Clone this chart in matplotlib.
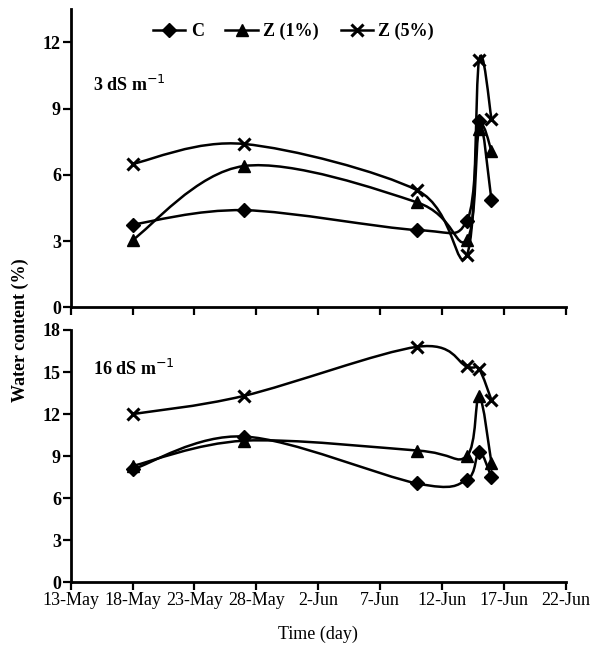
import numpy as np
import pandas as pd
import matplotlib
matplotlib.use("Agg")
import matplotlib.pyplot as plt
from matplotlib.path import Path
from matplotlib.patches import PathPatch
from matplotlib.lines import Line2D

# ==============================================================================
# DATA
# ==============================================================================

FECHAS = ["2010-05-18", "2010-05-27", "2010-06-10", "2010-06-14", "2010-06-15", "2010-06-16"]
TICKS_X = ["2010-05-13", "2010-05-18", "2010-05-23", "2010-05-28", "2010-06-02",
           "2010-06-07", "2010-06-12", "2010-06-17", "2010-06-22"]
ETIQUETAS_X = ["13-May", "18-May", "23-May", "28-May", "2-Jun", "7-Jun", "12-Jun", "17-Jun", "22-Jun"]

SERIES = ["C", "Z (1%)", "Z (5%)"]

# 3 dS m-1
AGUA_3 = {
    "C":      [3.75, 4.4, 3.5, 3.9, 8.45, 4.85],
    "Z (1%)": [3.05, 6.4, 4.75, 3.05, 8.1, 7.1],
    "Z (5%)": [6.5, 7.4, 5.3, 2.35, 11.2, 8.55],
}
# 16 dS m-1
AGUA_16 = {
    "C":      [8.05, 10.4, 7.05, 7.3, 9.3, 7.5],
    "Z (1%)": [8.3, 10.1, 9.4, 9.0, 13.3, 8.5],
    "Z (5%)": [12.0, 13.3, 16.8, 15.4, 15.2, 13.0],
}

MARCADORES = {"C": "D", "Z (1%)": "^", "Z (5%)": "x"}

FUENTE = ["Liberation Serif", "DejaVu Serif"]


def curva_suave(x, y):
    """Path de Bezier (suavizado tipo Excel) que pasa por los puntos."""
    n = len(x)
    p = np.column_stack([x, y])
    verts = [p[0]]
    codes = [Path.MOVETO]
    for i in range(n - 1):
        p0 = p[i - 1] if i > 0 else p[i]
        p3 = p[i + 2] if i + 2 < n else p[i + 1]
        c1 = p[i] + (p[i + 1] - p0) / 6.0
        c2 = p[i + 1] - (p3 - p[i]) / 6.0
        verts += [c1, c2, p[i + 1]]
        codes += [Path.CURVE4] * 3
    return Path(np.array(verts), codes)


def dibujar_panel(ax, datos, ymax, paso, texto, y_texto):
    x = matplotlib.dates.date2num(pd.to_datetime(FECHAS))
    for s in SERIES:
        y = np.array(datos[s])
        ax.add_patch(PathPatch(curva_suave(x, y), facecolor="none", edgecolor="black", lw=1.8))
        mk = MARCADORES[s]
        ax.plot(x, y, linestyle="none", marker=mk, color="black",
                markersize=8 if mk != "D" else 7, markeredgewidth=2.2 if mk == "x" else 1)

    xt = matplotlib.dates.date2num(pd.to_datetime(TICKS_X))
    ax.set_xlim(xt[0], xt[-1])
    ax.set_xticks(xt)
    ax.set_ylim(0, ymax)
    ax.set_yticks(np.arange(0, ymax + 0.01, paso))
    ax.spines["top"].set_visible(False)
    ax.spines["right"].set_visible(False)
    for sp in ("left", "bottom"):
        ax.spines[sp].set_linewidth(2)
    ax.tick_params(direction="out", length=6, width=1.6, labelsize=13, pad=1)
    for lab in ax.get_yticklabels():
        lab.set_fontfamily(FUENTE)
        lab.set_fontweight("bold")
    ax.text(0.045, y_texto, texto, transform=ax.transAxes,
            fontsize=13, fontfamily=FUENTE, fontweight="bold", ha="left", va="center")


def main():
    fig = plt.figure(figsize=(5.95, 6.52), dpi=100)
    ax1 = fig.add_axes([0.1188, 0.5287, 0.832, 0.4570])
    ax2 = fig.add_axes([0.1188, 0.1069, 0.832, 0.3870])

    dibujar_panel(ax1, AGUA_3, 13.5, 3, r"3 dS m$^{-1}$", 0.745)
    dibujar_panel(ax2, AGUA_16, 18, 3, r"16 dS m$^{-1}$", 0.845)

    ax1.set_xticklabels([])
    ax2.set_xticklabels(ETIQUETAS_X, fontfamily=FUENTE, fontsize=13)
    ax2.set_xlabel("Time (day)", fontsize=13, fontfamily=FUENTE, labelpad=12)
    fig.text(0.035, 0.494, "Water content (%)", rotation=90, fontsize=13,
             fontfamily=FUENTE, fontweight="bold", ha="center", va="center")

    handles = [Line2D([], [], color="black", lw=1.8, marker=MARCADORES[s],
                      markersize=8 if s != "C" else 7, markeredgewidth=2.2 if s == "Z (5%)" else 1)
               for s in SERIES]
    ax1.legend(handles, SERIES, loc="center", bbox_to_anchor=(0.45, 0.925), ncol=3,
               frameon=False, handlelength=1.8, columnspacing=1.2, handletextpad=0.3,
               prop={"family": FUENTE, "weight": "bold", "size": 13})

    fig.savefig("out.png", dpi=100)


if __name__ == "__main__":
    main()
